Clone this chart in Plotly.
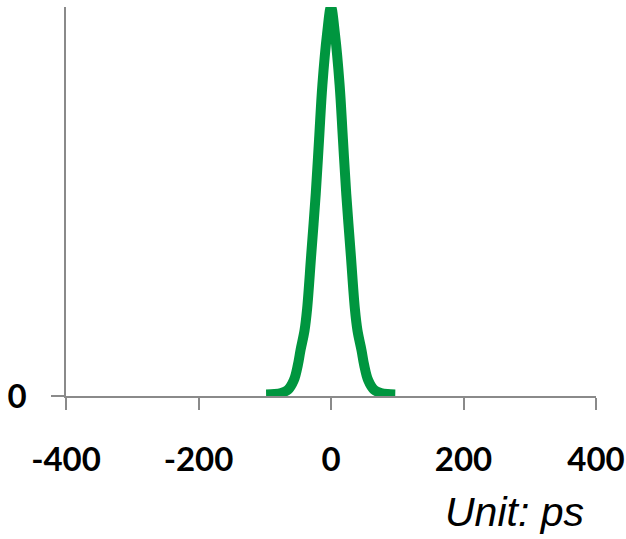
import plotly.graph_objects as go

# Pulse profile (time in ps, normalised amplitude)
time_ps = [-98, -85, -75, -65, -56, -50, -46, -40, -36, -30, -23, -18, -13, -6, 0,
           6, 13, 18, 23, 30, 36, 40, 46, 50, 56, 65, 75, 85, 97]
amplitude = [0.004, 0.005, 0.008, 0.016, 0.041, 0.08, 0.118, 0.168, 0.225, 0.36, 0.52, 0.66, 0.8, 0.93, 1.0,
             0.93, 0.8, 0.66, 0.52, 0.36, 0.225, 0.168, 0.118, 0.08, 0.041, 0.016, 0.008, 0.005, 0.004]

x_ticks = [-400, -200, 0, 200, 400]
x_tick_text = ["-400", "-200", "0", "200", "400"]
y_ticks = [0]
y_tick_text = ["0"]
unit_label = "Unit: ps"

axis_color = "#8a8a8a"
line_color = "#00963f"
tick_font = dict(family="Lato", size=33, color="#000000", weight="bold")

fig = go.Figure()
fig.add_trace(go.Scatter(
    x=time_ps, y=amplitude, mode="lines",
    line=dict(color=line_color, width=10, shape="spline", smoothing=1.0),
    showlegend=False, hoverinfo="skip",
))

fig.update_layout(
    width=626, height=539,
    margin=dict(l=66, r=30, t=7, b=143, autoexpand=False),
    paper_bgcolor="white", plot_bgcolor="white",
    xaxis=dict(
        range=[-400, 400], tickvals=x_ticks, ticktext=x_tick_text, automargin=False,
        showgrid=False, zeroline=False, showline=True, linecolor=axis_color, linewidth=1.5,
        ticks="outside", ticklen=12, tickwidth=1.5, tickcolor=axis_color,
        tickfont=tick_font, ticklabelstandoff=22,
    ),
    yaxis=dict(
        range=[0, 1.0], tickvals=y_ticks, ticktext=y_tick_text, automargin=False,
        showgrid=False, zeroline=False, showline=True, linecolor=axis_color, linewidth=1.5,
        ticks="outside", ticklen=13, tickwidth=1.5, tickcolor=axis_color,
        tickfont=tick_font, ticklabelstandoff=18,
    ),
    annotations=[dict(
        text=unit_label, xref="paper", yref="paper", x=(514 - 66) / 530, y=0,
        showarrow=False, xanchor="center", yanchor="top", yshift=-91,
        font=dict(family="Liberation Sans, Arial, sans-serif", size=41, color="#000000", style="italic"),
    )],
)

fig.write_html("out.html")
